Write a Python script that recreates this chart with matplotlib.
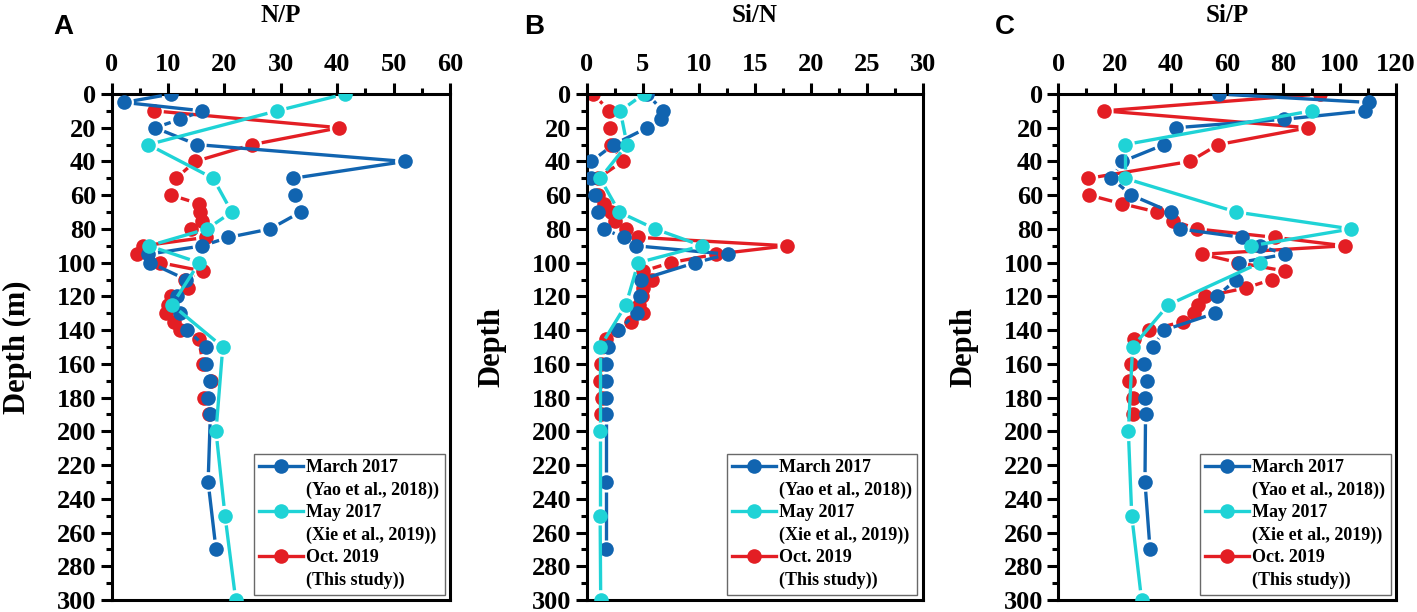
import numpy as np
import matplotlib
matplotlib.use("Agg")
import matplotlib.pyplot as plt
from matplotlib.collections import LineCollection
from matplotlib.lines import Line2D

plt.rcParams['font.family'] = ['Liberation Serif', 'DejaVu Serif']
plt.rcParams['font.weight'] = 'bold'

# ---- depths of each cruise ----
depth_mar = [0, 5, 10, 15, 20, 30, 40, 50, 60, 70, 80, 85, 90, 95, 100, 110, 120,
             130, 140, 150, 160, 170, 180, 190, 230, 270]
depth_may = [0, 10, 30, 50, 70, 80, 90, 100, 125, 150, 200, 250, 300]
depth_oct = [0, 10, 20, 30, 40, 50, 60, 65, 70, 75, 80, 85, 90, 95, 100, 105, 110,
             115, 120, 125, 130, 135, 140, 145, 160, 170, 180, 190]

# ---- N/P ----  (nan = outside the axis range)
np_mar = [10.6, 2.2, 16.1, 12.1, 7.7, 15.1, 52.0, 32.1, 32.5, 33.5, 28.1, 20.7, 16.1,
          6.5, 6.8, 13.2, 11.6, 12.1, 13.4, 16.7, 16.8, 17.4, 17.1, 17.5, 17.1, 18.5]
np_may = [41.4, 29.3, 6.5, 18.0, 21.3, 16.9, 6.6, 15.5, 10.7, 19.7, 18.5, 20.1, 22.0]
np_oct = [np.nan, 7.5, 40.4, 24.9, 14.8, 11.4, 10.6, 15.4, 15.6, 16.0, 14.0, 16.7, 5.6,
          4.4, 8.6, 16.2, 13.0, 13.5, 10.6, 10.0, 9.6, 11.1, 12.1, 15.4, 16.2, 17.6,
          16.3, 17.3]

# ---- Si/N ----
sin_mar = [5.4, np.nan, 6.8, 6.6, 5.4, 2.4, 0.4, 0.4, 0.7, 1.0, 1.5, 3.3, 4.4, 12.6,
           9.7, 4.85, 4.75, 4.45, 2.8, 1.9, 1.7, 1.7, 1.7, 1.7, 1.7, 1.7]
sin_may = [5.1, 3.0, 3.6, 1.2, 2.9, 6.1, 10.3, 4.6, 3.5, 1.2, 1.2, 1.2, 1.25]
sin_oct = [0.6, 2.0, 2.1, 2.2, 3.2, 1.0, 1.0, 1.5, 2.2, 2.5, 3.5, 4.6, 17.9, 11.5,
           7.5, 5.05, 5.8, 5.0, 4.9, 4.7, 5.0, 3.95, 2.7, 1.7, 1.3, 1.2, 1.35, 1.3]

# ---- Si/P ----
sip_mar = [57.0, 110.4, 108.9, 80.2, 41.8, 37.6, 22.8, 18.9, 26.0, 40.0, 43.2, 65.4,
           71.6, 80.5, 64.3, 63.2, 56.3, 55.7, 37.6, 33.5, 30.5, 31.4, 30.8, 31.0, 30.8,
           32.6]
sip_may = [np.nan, 90.0, 23.7, 23.7, 63.3, 104.1, 68.6, 71.8, 39.1, 26.4, 24.9, 26.1,
           29.6]
sip_oct = [92.9, 16.2, 88.8, 56.8, 46.7, 10.7, 11.0, 22.5, 35.1, 40.6, 49.3, 76.9,
           101.8, 51.2, 64.0, 80.6, 75.8, 66.7, 52.1, 49.7, 48.2, 44.2, 32.4, 26.9,
           25.7, 25.3, 26.7, 26.7]

names = ["March 2017", "May 2017", "Oct. 2019"]
refs = ["(Yao et al., 2018))", "(Xie et al., 2019))", "(This study))"]
colors = ["#1164b0", "#1fd3d6", "#e31e24"]

panels = [
    ("A", "N/P", "Depth (m)", [np_mar, np_may, np_oct], 60, 10, 5),
    ("B", "Si/N", "Depth", [sin_mar, sin_may, sin_oct], 30, 5, 2.5),
    ("C", "Si/P", "Depth", [sip_mar, sip_may, sip_oct], 120, 20, 10),
]
depths = [depth_mar, depth_may, depth_oct]
zorders = [3, 4, 2]
MS = 10.5     # marker size (pt)
GAP = MS / 2 * 100 / 72 + 2.5   # line gap around symbols (px)


def gapped_line(ax, x, y, color, z):
    # origin-style line that stops short of every symbol
    pts = ax.transData.transform(np.column_stack([x, y]))
    inv = ax.transData.inverted()
    segs = []
    for p0, p1 in zip(pts[:-1], pts[1:]):
        d = p1 - p0
        L = np.hypot(*d)
        if L <= 2 * GAP:
            continue
        u = d / L
        segs.append(inv.transform(np.array([p0 + u * GAP, p1 - u * GAP])))
    ax.add_collection(LineCollection(segs, colors=color, linewidths=2.4,
                                     zorder=z, capstyle="butt"))


fig = plt.figure(figsize=(14.17, 6.12), dpi=100)
W, H = 1417, 612
boxes = [(111.7, 450.0), (586.7, 922.7), (1058.3, 1396.0)]
letter_x = [63, 534, 1005]
top_px, bot_px = 94, 600

for (letter, title, ylab, series, xmax, major, minor), (x0, x1), lx in zip(panels, boxes, letter_x):
    ax = fig.add_axes([x0 / W, 1 - bot_px / H, (x1 - x0) / W, (bot_px - top_px) / H])
    ax.set_xlim(0, xmax)
    ax.set_ylim(300, 0)

    for d, vals, c, z in zip(depths, series, colors, zorders):
        d = np.array(d, dtype=float)
        v = np.array(vals, dtype=float)
        ok = ~np.isnan(v)
        gapped_line(ax, v[ok], d[ok], c, z)
        ax.plot(v[ok], d[ok], "o", color=c, ms=MS, markeredgewidth=0, zorder=z)

    ax.xaxis.tick_top()
    ax.set_xticks(np.arange(0, xmax + 0.1, major))
    ax.set_xticks(np.arange(0, xmax + 0.1, minor), minor=True)
    ax.set_yticks(np.arange(0, 301, 20))
    ax.set_yticks(np.arange(0, 301, 10), minor=True)
    ax.tick_params(which="major", direction="out", length=8, width=2.2, labelsize=19)
    ax.tick_params(which="minor", direction="out", length=4.5, width=2.2)
    ax.tick_params(axis="x", which="major", pad=5)
    ax.tick_params(axis="y", which="major", pad=3)
    for lbl in ax.get_xticklabels() + ax.get_yticklabels():
        lbl.set_fontweight("bold")
    for s in ax.spines.values():
        s.set_linewidth(2.2)

    wpx = x1 - x0
    hpx = bot_px - top_px
    ax.text(0.5, 1 + (top_px - 15) / hpx, title, transform=ax.transAxes,
            fontsize=18, fontweight="bold", ha="center", va="center")
    ax.set_ylabel(ylab, fontsize=22, fontweight="bold")
    ax.yaxis.set_label_coords(-80 / wpx, 0.5)
    fig.text(lx / W, 1 - 27 / H, letter, fontsize=20, fontweight="bold",
             family=["Liberation Sans", "DejaVu Sans"], ha="center", va="center")

    # legend: symbol on the first line, reference on the second
    handles, texts = [], []
    for c, n, r in zip(colors, names, refs):
        handles.append(Line2D([], [], color=c, lw=2.4, marker="o", ms=MS,
                              markeredgewidth=0))
        texts.append(n)
        handles.append(Line2D([], [], linestyle="none"))
        texts.append(r)
    leg = ax.legend(handles, texts, loc="lower right",
                    prop={"weight": "bold", "size": 13}, frameon=True,
                    fancybox=False, edgecolor="#444444", handlelength=2.45,
                    handletextpad=0.15, borderpad=0.3, labelspacing=0.3,
                    borderaxespad=0.3)
    leg.get_frame().set_linewidth(1.0)
    leg.set_zorder(10)

plt.savefig("out.png", dpi=100)
